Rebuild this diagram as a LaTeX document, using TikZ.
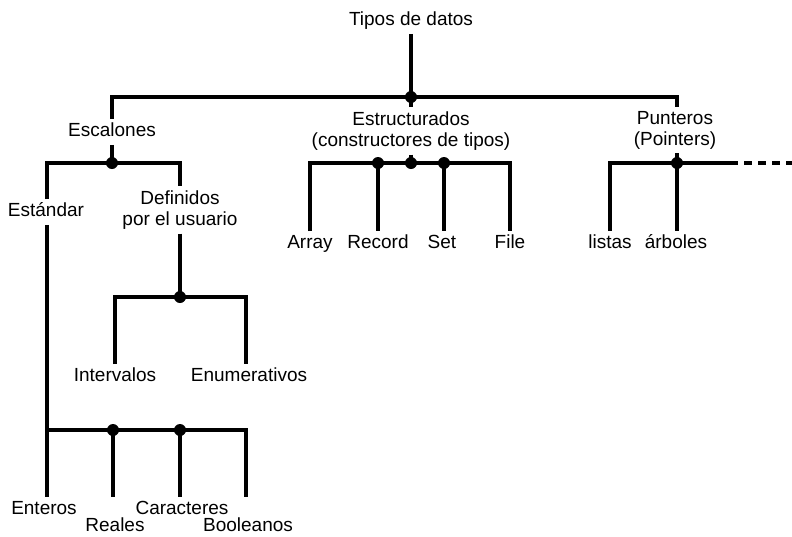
\documentclass[tikz,border=0pt]{standalone}
\usepackage{fontspec}
\setmainfont{Liberation Sans}
\begin{document}
\begin{tikzpicture}[x=1pt,y=-1pt,
  lbl/.style={font=\fontsize{19}{21}\selectfont, inner sep=4pt, text height=13.5pt, text depth=4pt},
  lbltwo/.style={font=\fontsize{19}{21}\selectfont, inner sep=4pt, align=center},
  jdot/.style={circle, fill=black, inner sep=0pt, minimum size=12pt},
  link/.style={line width=3.3pt, line join=miter},
  dashlink/.style={line width=3.3pt, dash pattern=on 8pt off 6pt}]
\useasboundingbox (0,0) rectangle (792,536);

% labels
\node[lbl] (root) at (411,21) {Tipos de datos};
\node[lbl] (esc) at (112,132) {Escalones};
\node[lbltwo] (est) at (411,131) {Estructurados\\(constructores de tipos)};
\node[lbltwo] (pun) at (675,130) {Punteros\\(Pointers)};
\node[lbl] (std) at (46,212) {Estándar};
\node[lbltwo] (def) at (180,210) {Definidos\\por el usuario};
\node[lbl] (int) at (115,377) {Intervalos};
\node[lbl] (enu) at (249,377) {Enumerativos};
\node[lbl] (ent) at (44,510) {Enteros};
\node[lbl] (rea) at (115,527) {Reales};
\node[lbl] (car) at (182,510) {Caracteres};
\node[lbl] (boo) at (248,527) {Booleanos};
\node[lbl] (arr) at (310,244) {Array};
\node[lbl] (rec) at (378,244) {Record};
\node[lbl] (set) at (442,244) {Set};
\node[lbl] (fil) at (510,244) {File};
\node[lbl] (lis) at (610,244) {listas};
\node[lbl] (arb) at (676,244) {árboles};

% junctions
\coordinate (d0) at (411,97);
\coordinate (d1) at (112,163);
\coordinate (d2) at (180,297);
\coordinate (d3) at (113,430);
\coordinate (d4) at (180,430);
\coordinate (d5) at (411,163);
\coordinate (dr) at (378,163);
\coordinate (ds) at (444,163);
\coordinate (d6) at (677,163);
\coordinate (pr) at (677,97);
\coordinate (er) at (246,297);
\coordinate (bl) at (47,430);
\coordinate (br) at (246,430);
\coordinate (pe) at (730,163);
\coordinate (pend) at (792,163);

% connectors
\draw[link] (root) -- (d0);
\draw[link] (esc.north) |- (d0) -- (pr) -- (pr |- pun.north);
\draw[link] (d0) -- (est);
\draw[link] (esc) -- (d1);
\draw[link] (std.north -| bl) |- (d1) -| (def.north);
\draw[link] (def) -- (d2);
\draw[link] (int.north) |- (d2) -- (er) -- (er |- enu.north);
\draw[link] (std.south -| bl) -- (bl |- ent.north);
\draw[link] (bl) -- (br) -- (br |- ent.north);
\draw[link] (d3) -- (d3 |- ent.north);
\draw[link] (d4) -- (d4 |- car.north);
\draw[link] (est) -- (d5);
\draw[link] (arr.north) |- (d5) -| (fil.north);
\draw[link] (dr) -- (dr |- rec.north);
\draw[link] (ds) -- (ds |- set.north);
\draw[link] (pun.south -| d6) -- (d6);
\draw[link] (lis.north) |- (d6) -- (pe);
\draw[dashlink] (pe) -- (pend);
\draw[link] (d6) -- (d6 |- arb.north);

% dots
\foreach \p in {d0,d1,d2,d3,d4,d5,dr,ds,d6}
  \node[jdot] at (\p) {};
\end{tikzpicture}
\end{document}
